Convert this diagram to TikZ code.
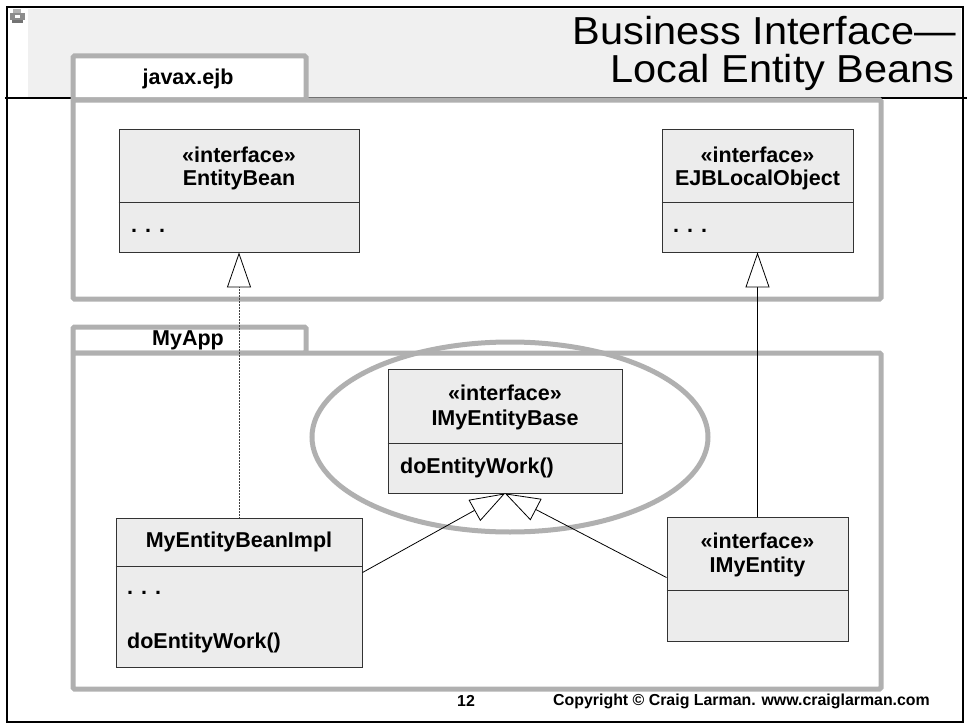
\documentclass[tikz,border=0pt]{standalone}
\usepackage{fontspec}
\setmainfont{Liberation Sans}
\usetikzlibrary{arrows.meta,shapes.geometric}
\definecolor{hdrgray}{HTML}{F0F0F0}
\definecolor{pkggray}{HTML}{B0B0B0}
\definecolor{boxfill}{HTML}{ECECEC}
\definecolor{boxline}{HTML}{333333}
\tikzset{
  pkgshape/.style={draw=pkggray, line width=5pt, fill=white, rounded corners=1.5pt, inner sep=0pt},
  cls/.style={draw=boxline, fill=boxfill, line width=0.9pt, inner sep=0pt},
  divline/.style={draw=boxline, line width=0.9pt},
  lbl/.style={inner sep=0pt, font=\fontsize{21.5}{25}\selectfont\bfseries},
  foot/.style={inner sep=0pt, font=\fontsize{15.9}{18}\selectfont\bfseries},
  ttl/.style={inner sep=0pt, xscale=1.065, font=\fontsize{39}{44}\selectfont},
  gen/.style={line width=0.8pt, -{Triangle[length=35pt,width=24pt,fill=white,color=black]}},
  dotline/.style={draw=black!75, dash pattern=on 0.8pt off 0.7pt},
  focus/.style={ellipse, draw=pkggray, line width=5pt, inner sep=0pt}
}
\begin{document}
\begin{tikzpicture}[x=1pt,y=-1pt]
\useasboundingbox (0,0) rectangle (967,725);
% header
\fill[hdrgray] (28,9) rectangle (961,97);
% small icon
\fill[black!45] (10,13) rectangle (25,20);
\fill[black!30] (13,9) rectangle (21,13);
\fill[black!55] (12,20) rectangle (23,23);
\fill[white] (15,15) rectangle (20,18);
% frame
\draw[line width=2pt] (7,7) rectangle (963,722);
\draw[line width=2pt] (5,98) -- (967,98);
% title
\node[ttl, anchor=base east] (t1) at (956,45) {Business Interface—};
\node[ttl, anchor=base east] (t2) at (955,82) {Local Entity Beans};
% package javax.ejb
\node[pkgshape, minimum width=233pt, minimum height=44pt] (tab1) at (189.5,78) {};
\node[pkgshape, minimum width=808pt, minimum height=199pt] (pkg1) at (477,199.5) {};
\node[lbl] (tab1t) at (188,79) {javax.ejb};
% package MyApp
\node[pkgshape, minimum width=233pt, minimum height=26pt] (tab2) at (189.5,340) {};
\node[pkgshape, minimum width=808pt, minimum height=336pt] (pkg2) at (477,521) {};
\node[lbl] (tab2t) at (188,340) {MyApp};
% highlight ellipse
\node[focus, minimum width=396pt, minimum height=190pt] (hl) at (510,437) {};
% EntityBean
\node[cls, minimum width=240pt, minimum height=123pt] (eb) at (239,190.5) {};
\draw[divline] ([yshift=-74pt]eb.north west) -- ([yshift=-74pt]eb.north east);
\node[lbl] (ebs) at (239,155) {«interface»};
\node[lbl] (ebn) at (239,180) {EntityBean};
\node[lbl, anchor=west] (ebd) at (131,231) {. . .};
% EJBLocalObject
\node[cls, minimum width=191pt, minimum height=123pt] (ejb) at (757.5,190.5) {};
\draw[divline] ([yshift=-74pt]ejb.north west) -- ([yshift=-74pt]ejb.north east);
\node[lbl] (ejbs) at (757.5,155) {«interface»};
\node[lbl] (ejbn) at (757.5,180) {EJBLocalObject};
\node[lbl, anchor=west] (ejbd) at (673,231) {. . .};
% IMyEntityBase
\node[cls, minimum width=234pt, minimum height=124pt] (ibase) at (505,431) {};
\draw[divline] ([yshift=-75pt]ibase.north west) -- ([yshift=-75pt]ibase.north east);
\node[lbl] (ibs) at (505,393) {«interface»};
\node[lbl] (ibn) at (505,420) {IMyEntityBase};
\node[lbl, anchor=west] (ibm) at (400,468) {doEntityWork()};
% MyEntityBeanImpl
\node[cls, minimum width=246pt, minimum height=149pt] (impl) at (239,592.5) {};
\draw[divline] ([yshift=-49pt]impl.north west) -- ([yshift=-49pt]impl.north east);
\node[lbl] (impn) at (239,542) {MyEntityBeanImpl};
\node[lbl, anchor=west] (impd) at (127,593) {. . .};
\node[lbl, anchor=west] (impm) at (127,643) {doEntityWork()};
% IMyEntity
\node[cls, minimum width=181pt, minimum height=124pt] (ime) at (757.5,579) {};
\draw[divline] ([yshift=-74pt]ime.north west) -- ([yshift=-74pt]ime.north east);
\node[lbl] (imes) at (757.5,541) {«interface»};
\node[lbl] (imen) at (757.5,567) {IMyEntity};
% connectors
\draw[gen, dotline] (impl.north) -- (eb.south);
\draw[gen] (ime.north) -- (ejb.south);
\draw[gen] ([yshift=-55pt]impl.north east) -- (ibase.south);
\draw[gen] ([yshift=-61pt]ime.north west) -- (ibase.south);
% footer
\node[foot] (pg) at (466,701) {12};
\node[foot, anchor=west] (copy) at (553,701) {Copyright © Craig Larman. www.craiglarman.com};
\end{tikzpicture}
\end{document}
